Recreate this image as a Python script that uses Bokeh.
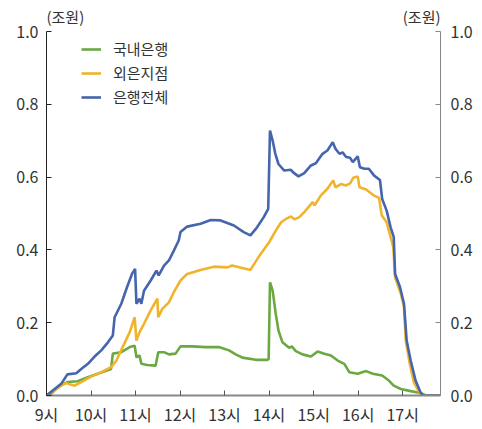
from bokeh.plotting import figure
from bokeh.models import LinearAxis, FixedTicker, Range1d, Label, Legend, LegendItem
from bokeh.embed import file_html
from bokeh.resources import INLINE

FONT = "Noto Sans CJK KR"

# time in hours (9 = 09:00), values in 조원
t_total = [9.00, 9.33, 9.47, 9.67, 9.78, 9.93, 10.08, 10.23, 10.38, 10.49, 10.53, 10.68, 10.81,
           10.92, 10.99, 11.02, 11.09, 11.13, 11.19, 11.34, 11.47, 11.52, 11.64, 11.75, 11.86,
           11.97, 12.01, 12.16, 12.46, 12.69, 12.91, 13.21, 13.43, 13.58, 13.73, 13.88, 13.98,
           14.02, 14.08, 14.14, 14.21, 14.34, 14.49, 14.54, 14.66, 14.79, 14.94, 15.05, 15.20,
           15.31, 15.43, 15.49, 15.58, 15.65, 15.73, 15.82, 15.88, 15.99, 16.04, 16.14, 16.24,
           16.36, 16.49, 16.54, 16.64, 16.73, 16.80, 16.83, 16.94, 17.03, 17.09, 17.18, 17.29,
           17.40, 17.45, 17.85]
v_total = [0.0, 0.032, 0.058, 0.061, 0.073, 0.087, 0.107, 0.124, 0.146, 0.165, 0.215, 0.252, 0.298,
           0.334, 0.348, 0.252, 0.266, 0.252, 0.288, 0.316, 0.343, 0.330, 0.357, 0.371, 0.398,
           0.426, 0.449, 0.464, 0.472, 0.482, 0.481, 0.467, 0.449, 0.440, 0.462, 0.490, 0.513,
           0.728, 0.700, 0.664, 0.636, 0.618, 0.620, 0.613, 0.602, 0.611, 0.632, 0.638, 0.664,
           0.673, 0.696, 0.678, 0.664, 0.668, 0.655, 0.653, 0.641, 0.657, 0.627, 0.623, 0.623,
           0.604, 0.592, 0.540, 0.508, 0.462, 0.435, 0.334, 0.298, 0.252, 0.151, 0.096, 0.041,
           0.009, 0.0, 0.0]

t_foreign = [9.00, 9.07, 9.33, 9.44, 9.63, 9.78, 10.00, 10.23, 10.45, 10.57, 10.71, 10.87, 10.98,
             11.02, 11.09, 11.19, 11.34, 11.49, 11.51, 11.60, 11.75, 11.86, 12.01, 12.16, 12.46,
             12.76, 13.06, 13.17, 13.58, 13.81, 14.00, 14.15, 14.27, 14.38, 14.49, 14.57, 14.68,
             14.79, 14.98, 15.02, 15.16, 15.31, 15.44, 15.49, 15.61, 15.73, 15.82, 15.89, 15.99,
             16.03, 16.18, 16.36, 16.47, 16.53, 16.64, 16.73, 16.79, 16.83, 16.96, 17.03, 17.07,
             17.16, 17.25, 17.37, 17.43, 17.85]
v_foreign = [0.0, 0.005, 0.027, 0.034, 0.027, 0.037, 0.052, 0.064, 0.078, 0.096, 0.133, 0.174, 0.215,
             0.151, 0.174, 0.197, 0.234, 0.266, 0.215, 0.238, 0.256, 0.284, 0.316, 0.334, 0.345,
             0.354, 0.352, 0.357, 0.345, 0.389, 0.421, 0.453, 0.476, 0.485, 0.492, 0.484, 0.490,
             0.504, 0.531, 0.522, 0.549, 0.568, 0.591, 0.572, 0.581, 0.577, 0.583, 0.598, 0.602,
             0.572, 0.566, 0.549, 0.543, 0.495, 0.476, 0.435, 0.407, 0.325, 0.279, 0.243, 0.151,
             0.087, 0.037, 0.009, 0.0, 0.0]

t_domestic = [9.00, 9.11, 9.29, 9.48, 9.70, 9.93, 10.15, 10.45, 10.49, 10.68, 10.87, 10.98, 11.02,
              11.09, 11.13, 11.26, 11.45, 11.51, 11.64, 11.75, 11.90, 12.01, 12.27, 12.57, 12.87,
              13.10, 13.25, 13.40, 13.70, 13.96, 13.99, 14.02, 14.08, 14.15, 14.21, 14.30, 14.45,
              14.51, 14.60, 14.75, 14.94, 15.09, 15.24, 15.39, 15.54, 15.69, 15.80, 15.99, 16.18,
              16.33, 16.54, 16.69, 16.80, 16.96, 17.18, 17.40, 17.52, 17.85]
v_domestic = [0.0, 0.005, 0.027, 0.037, 0.039, 0.050, 0.060, 0.073, 0.115, 0.119, 0.133, 0.137, 0.105,
              0.110, 0.087, 0.084, 0.082, 0.119, 0.119, 0.113, 0.115, 0.135, 0.135, 0.133, 0.133,
              0.124, 0.113, 0.104, 0.098, 0.098, 0.100, 0.311, 0.288, 0.224, 0.179, 0.146, 0.131,
              0.135, 0.122, 0.113, 0.107, 0.121, 0.115, 0.110, 0.096, 0.087, 0.064, 0.060, 0.067,
              0.060, 0.055, 0.041, 0.027, 0.018, 0.012, 0.007, 0.0, 0.0]

series_names = ["국내은행", "외은지점", "은행전체"]
series_colors = ["#6aa842", "#f1b32c", "#4565ad"]

x_ticks = [9, 10, 11, 12, 13, 14, 15, 16, 17]
x_tick_labels = ["9시", "10시", "11시", "12시", "13시", "14시", "15시", "16시", "17시"]
y_ticks = [0.0, 0.2, 0.4, 0.6, 0.8, 1.0]
y_tick_labels = ["0.0", "0.2", "0.4", "0.6", "0.8", "1.0"]
unit_label = "(조원)"

p = figure(width=482, height=429, output_backend="svg", toolbar_location=None,
           x_range=Range1d(9, 17.85), y_range=Range1d(0, 1.0742),
           min_border_left=46, min_border_right=42, min_border_top=4, min_border_bottom=34,
           frame_width=394, frame_height=391)
p.outline_line_color = None
p.grid.grid_line_color = None
p.background_fill_color = "white"

r_dom = p.line(t_domestic, v_domestic, line_color=series_colors[0], line_width=2.6)
r_for = p.line(t_foreign, v_foreign, line_color=series_colors[1], line_width=2.6)
r_tot = p.line(t_total, v_total, line_color=series_colors[2], line_width=2.6)

def style_y(ax, color):
    ax.ticker = FixedTicker(ticks=y_ticks)
    ax.major_label_overrides = {v: s for v, s in zip(y_ticks, y_tick_labels)}
    ax.bounds = (0, 1.0)
    ax.major_tick_in = 5
    ax.major_tick_out = 0
    ax.minor_tick_line_color = None
    ax.axis_line_color = color
    ax.major_tick_line_color = color
    ax.major_label_text_font = FONT
    ax.major_label_text_font_size = "16px"
    ax.major_label_text_color = "#333333"
    ax.major_label_standoff = 8

style_y(p.yaxis[0], "#222222")
ry = LinearAxis()
style_y(ry, "#888888")
ry.major_label_standoff = 10
p.add_layout(ry, "right")

xa = p.xaxis[0]
xa.ticker = FixedTicker(ticks=x_ticks)
xa.major_label_overrides = {v: s for v, s in zip(x_ticks, x_tick_labels)}
xa.major_tick_in = 5
xa.major_tick_out = 0
xa.minor_tick_line_color = None
xa.axis_line_color = "#888888"
xa.axis_line_width = 2
xa.major_tick_line_color = "#555555"
xa.major_label_text_font = FONT
xa.major_label_text_font_size = "16px"
xa.major_label_text_color = "#333333"
xa.major_label_standoff = 6

p.add_layout(Label(x=9.0, y=1.041, text=unit_label, text_align="left",
                   text_baseline="middle", text_font=FONT, text_font_size="15px",
                   text_color="#333333"))
p.add_layout(Label(x=17.85, y=1.041, text=unit_label, text_align="right",
                   text_baseline="middle", text_font=FONT, text_font_size="15px",
                   text_color="#333333"))

legend = Legend(items=[LegendItem(label=series_names[0], renderers=[r_dom]),
                       LegendItem(label=series_names[1], renderers=[r_for]),
                       LegendItem(label=series_names[2], renderers=[r_tot])],
                location=(35, 288), margin=0, padding=0, spacing=3,
                glyph_width=20, glyph_height=20, label_height=20, label_standoff=12,
                label_text_font=FONT, label_text_font_size="15px", label_text_color="#333333",
                border_line_color=None, background_fill_alpha=0)
p.add_layout(legend, "center")

open("out.html", "w").write(file_html(p, INLINE))
